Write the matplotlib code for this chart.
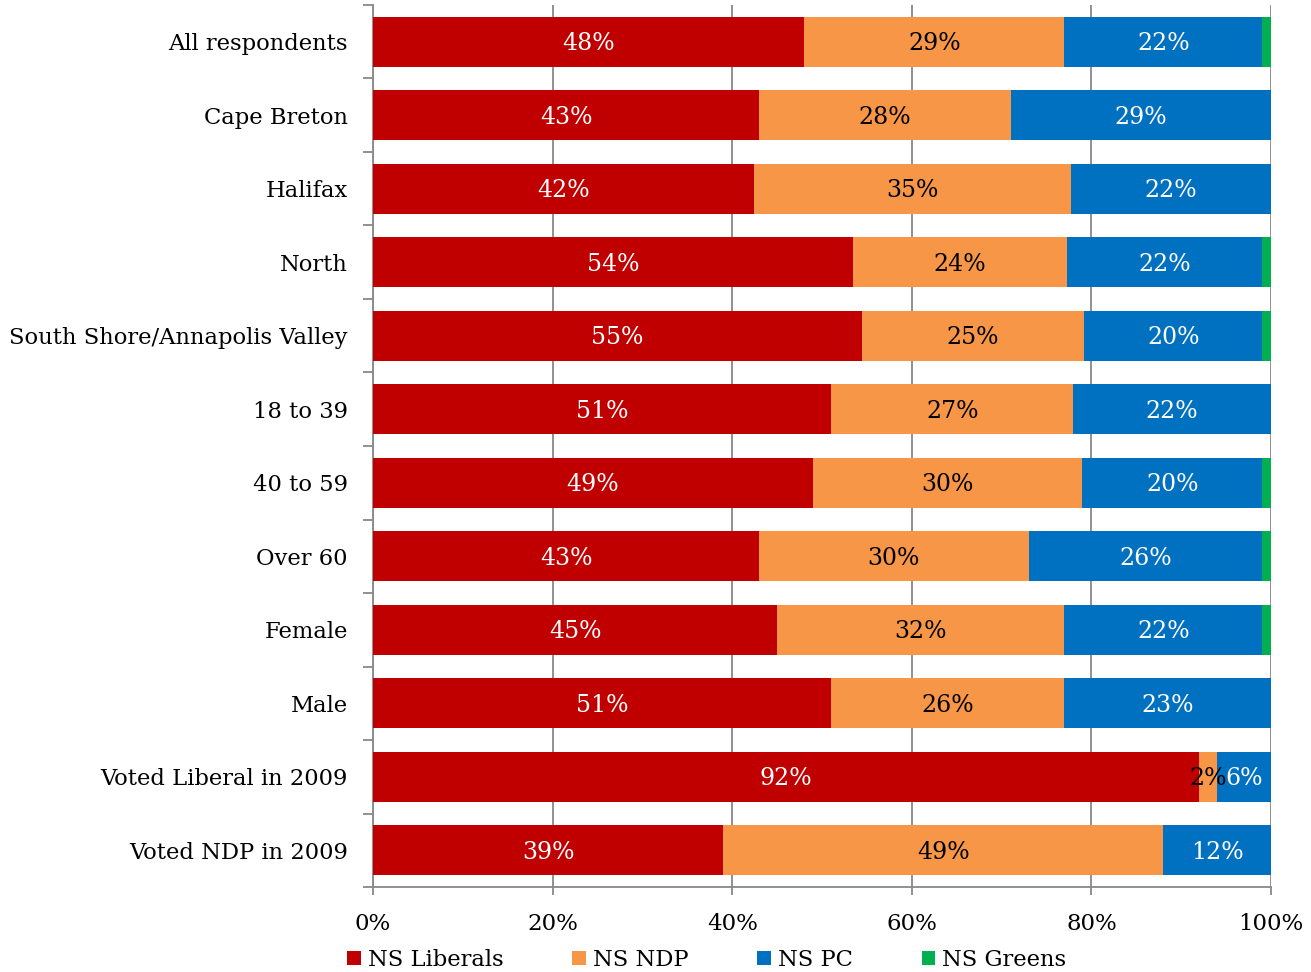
import numpy as np
import matplotlib.pyplot as plt
from matplotlib.ticker import FuncFormatter, FixedLocator

categories = ["All respondents", "Cape Breton", "Halifax", "North",
              "South Shore/Annapolis Valley", "18 to 39", "40 to 59", "Over 60",
              "Female", "Male", "Voted Liberal in 2009", "Voted NDP in 2009"]
liberals = [48, 43, 42, 54, 55, 51, 49, 43, 45, 51, 92, 39]
ndp = [29, 28, 35, 24, 25, 27, 30, 30, 32, 26, 2, 49]
pc = [22, 29, 22, 22, 20, 22, 20, 26, 22, 23, 6, 12]
greens = [1, 0, 0, 1, 1, 0, 1, 1, 1, 0, 0, 0]
series_names = ["NS Liberals", "NS NDP", "NS PC", "NS Greens"]
colors = ["#C00000", "#F79646", "#0070C0", "#00B050"]
text_colors = ["white", "black", "white", None]

plt.rcParams['font.family'] = ['DejaVu Serif']

data = np.array([liberals, ndp, pc, greens], dtype=float)
shares = data / data.sum(axis=0) * 100

fig = plt.figure(figsize=(13.11, 9.72), dpi=100)
ax = fig.add_axes([0.2845, 0.0874, 0.685, 0.9075])

y = np.arange(len(categories))
left = np.zeros(len(categories))
for i in range(4):
    bars = ax.barh(y, shares[i], left=left, height=0.68, color=colors[i],
                   label=series_names[i], zorder=3)
    if text_colors[i]:
        for j, b in enumerate(bars):
            if data[i, j] > 0:
                ax.text(left[j] + shares[i, j] / 2, y[j] + 0.03, "%d%%" % data[i, j],
                        ha="center", va="center", color=text_colors[i],
                        fontsize=17, zorder=4)
    left += shares[i]

ax.set_xlim(0, 100)
ax.set_ylim(len(categories) - 0.5, -0.5)
ax.set_yticks(y)
ax.set_yticklabels(categories, fontsize=16.3)
ax.yaxis.set_minor_locator(FixedLocator(np.arange(-0.5, len(categories), 1)))
ax.tick_params(axis="y", which="major", length=0, pad=18)
ax.tick_params(axis="y", which="minor", length=7, color="#888888", width=1.3)
ax.set_xticks(np.arange(0, 101, 20))
ax.xaxis.set_major_formatter(FuncFormatter(lambda v, p: "%d%%" % v))
ax.tick_params(axis="x", length=6, color="#888888", width=1.3, labelsize=16.5, pad=13)
ax.grid(axis="x", color="#888888", linewidth=1.3, zorder=0)
for s in ["top", "right"]:
    ax.spines[s].set_visible(False)
for s in ["left", "bottom"]:
    ax.spines[s].set_color("#888888")
    ax.spines[s].set_linewidth(1.3)

handles, labels = ax.get_legend_handles_labels()
fig.legend(handles, labels, loc="lower center", ncol=4, frameon=False,
           bbox_to_anchor=(0.539, -0.02), fontsize=16.3, handlelength=0.6,
           handleheight=0.6, handletextpad=0.3, columnspacing=3.05)

fig.savefig("out.png", dpi=100)
